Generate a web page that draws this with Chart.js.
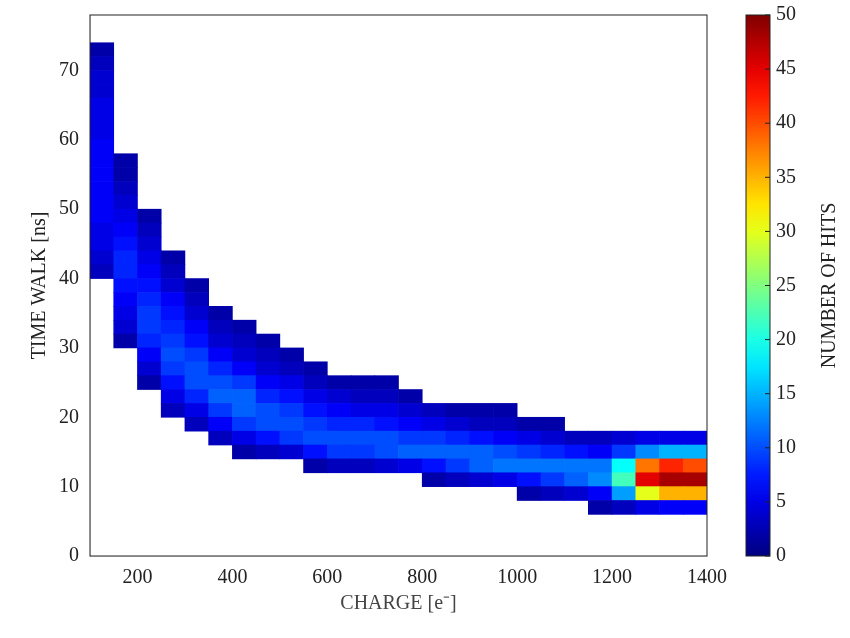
<!DOCTYPE html><html><head><script src="https://cdn.jsdelivr.net/npm/chart.js@4"></script>
<style>body{margin:0;background:#fff}#w{width:850px;height:638px}</style></head><body><div id="w"><canvas id="c"></canvas></div>
<script>
const chargeCenters=[125,175,225,275,325,375,425,475,525,575,625,675,725,775,825,875,925,975,1025,1075,1125,1175,1225,1275,1325,1375];
const colStart=[40,30,24,20,18,16,14,14,14,12,12,12,12,12,10,10,10,10,8,8,8,6,6,6,6,6];
const colCounts=[
[3,4,5,5,6,6,6,6,6,6,5,5,5,4,4,3,2],
[2,4,5,6,7,8,8,7,6,5,4,3,2,2],
[2,4,6,8,9,9,8,7,6,5,4,3,2],
[3,5,7,9,10,9,8,7,6,4,3,2],
[3,5,8,10,10,9,7,6,4,3,2],
[3,6,9,11,10,8,6,4,3,2],
[2,5,9,11,11,9,6,4,3,2],
[3,7,10,10,8,6,4,3,2],
[4,9,10,9,7,5,3,2],
[2,7,10,9,7,5,3,2],
[3,9,10,8,6,4,2],
[3,9,10,8,5,3,2],
[4,10,10,7,5,3,2],
[5,11,9,6,4,2],
[2,7,11,9,5,3],
[3,9,11,8,4,2],
[4,11,11,7,3,2],
[5,12,10,6,3,2],
[2,7,12,9,5,2],
[3,9,12,8,4,2],
[4,11,12,7,3],
[2,6,13,12,6,3],
[3,14,22,19,9,4],
[5,30,45,38,13,5],
[6,35,48,42,15,5],
[6,35,48,40,15,5]];
const binH=2, cMax=50;
const xTicks=[200,400,600,800,1000,1200,1400];
const yTicks=[0,10,20,30,40,50,60,70];
const cbTicks=[0,5,10,15,20,25,30,35,40,45,50];
function jet(v){let t=Math.max(0,Math.min(1,v/cMax));
 const f=x=>Math.max(0,Math.min(1,1.5-Math.abs(4*t-x)));
 return `rgb(${Math.round(255*f(3))},${Math.round(255*f(2))},${Math.round(255*f(1))})`;}
const datasets=[];
for(let b=0;b<37;b++){const y0=b*binH;const data=[];
 chargeCenters.forEach((x,i)=>{const k=(y0-colStart[i])/binH;const v=colCounts[i][k];
  if(v) data.push({x:x,y:[y0,y0+binH],v:v});});
 if(data.length) datasets.push({data,grouped:false,barPercentage:1,categoryPercentage:1,borderWidth:0,
  backgroundColor:c=>jet(c.raw?c.raw.v:0)});}
const font={family:'Liberation Serif',size:20};
const deco={id:'deco',afterDraw(ch){const a=ch.chartArea,ctx=ch.ctx;
 ctx.save();ctx.strokeStyle='#222';ctx.lineWidth=1;ctx.strokeRect(a.left,a.top,a.right-a.left,a.bottom-a.top);
 const x0=746,w=24;const g=ctx.createLinearGradient(0,a.bottom,0,a.top);
 for(let i=0;i<=20;i++)g.addColorStop(i/20,jet(i/20*cMax));
 ctx.fillStyle=g;ctx.fillRect(x0,a.top,w,a.bottom-a.top);ctx.strokeRect(x0,a.top,w,a.bottom-a.top);
 ctx.fillStyle='#222';ctx.font='20px Liberation Serif';ctx.textBaseline='middle';
 cbTicks.forEach(t=>{const y=a.bottom-(a.bottom-a.top)*t/cMax;ctx.fillText(String(t),x0+w+6,y);
  ctx.beginPath();ctx.moveTo(x0+w,y);ctx.lineTo(x0+w-5,y);ctx.stroke();});
 ctx.translate(830,(a.top+a.bottom)/2);ctx.rotate(-Math.PI/2);ctx.textAlign='center';
 ctx.fillText('NUMBER OF HITS',0,0);ctx.restore();}};
new Chart(document.getElementById('c'),{type:'bar',data:{datasets},plugins:[deco],
options:{responsive:true,maintainAspectRatio:false,animation:false,
 layout:{padding:{top:10,right:143,left:24,bottom:18}},
 plugins:{legend:{display:false},tooltip:{enabled:false}},
 scales:{x:{type:'linear',min:100,max:1400,offset:false,grid:{display:false},
  afterBuildTicks:s=>{s.ticks=xTicks.map(v=>({value:v}));},
  ticks:{font,color:'#222',padding:2,autoSkip:false,maxRotation:0,callback:v=>String(v)},
  title:{display:true,text:'CHARGE [e⁻]',font,color:'#444',padding:{top:0}}},
  y:{min:0,max:78,grid:{display:false},afterBuildTicks:s=>{s.ticks=yTicks.map(v=>({value:v}));},
  ticks:{font,color:'#222',callback:v=>String(v)},
  title:{display:true,text:'TIME WALK [ns]',font,color:'#222'}}}}});
</script></body></html>
